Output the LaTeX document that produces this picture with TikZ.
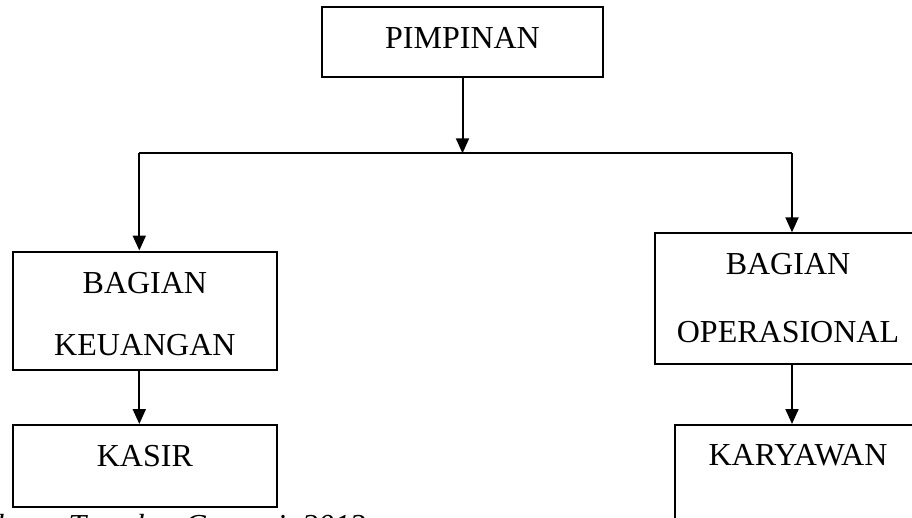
\documentclass[tikz,border=0pt]{standalone}
\usepackage{fontspec}
\setmainfont{Liberation Serif}
\usetikzlibrary{arrows.meta}
\begin{document}
\begin{tikzpicture}[x=1pt,y=-1pt,
  boxstyle/.style={draw,line width=2pt,inner sep=0pt},
  lbl/.style={inner sep=0pt,anchor=base,font=\fontsize{32}{38}\selectfont},
  conn/.style={line width=2pt},
  arr/.style={line width=2pt,-{Triangle[length=15pt,width=13pt]}}]
\useasboundingbox (0,0) rectangle (912,517);
% boxes
\node[boxstyle,minimum width=281.5pt,minimum height=69.4pt] (pim) at (462.5,42) {};
\node[boxstyle,minimum width=264.8pt,minimum height=118pt] (keu) at (144.9,310.5) {};
\node[boxstyle,minimum width=264.8pt,minimum height=82pt] (kas) at (144.9,466) {};
\node[boxstyle,minimum width=266pt,minimum height=130.7pt] (ops) at (788,298.7) {};
\node[boxstyle,minimum width=246pt,minimum height=135pt] (kar) at (798,492.5) {};
% labels
\node[lbl] (tpim) at (462.5,48.5) {PIMPINAN};
\node[lbl] (tkeu1) at (144.9,293.3) {BAGIAN};
\node[lbl] (tkeu2) at (144.9,355) {KEUANGAN};
\node[lbl] (tkas) at (144.9,466) {KASIR};
\node[lbl] (tops1) at (788,274) {BAGIAN};
\node[lbl] (tops2) at (788,342) {OPERASIONAL};
\node[lbl] (tkar) at (798,465.6) {KARYAWAN};
\node[inner sep=0pt,anchor=base west,font=\fontsize{32}{38}\selectfont\itshape] (src) at (-59,536) {Sumber : Tempha, Gunawi, 2013};
% connectors
\coordinate (jm) at (462.5,153.3);
\coordinate (jl) at (139.3,153.3);
\coordinate (jr) at (792,153.3);
\draw[arr] (pim.south) -- (jm);
\draw[conn] (jl) -- (jr);
\draw[arr] (jl) -- (jl |- keu.north);
\draw[arr] (jr) -- (jr |- ops.north);
\draw[arr] (keu.south -| jl) -- (kas.north -| jl);
\draw[arr] (ops.south -| jr) -- (kar.north -| jr);
\end{tikzpicture}
\end{document}
